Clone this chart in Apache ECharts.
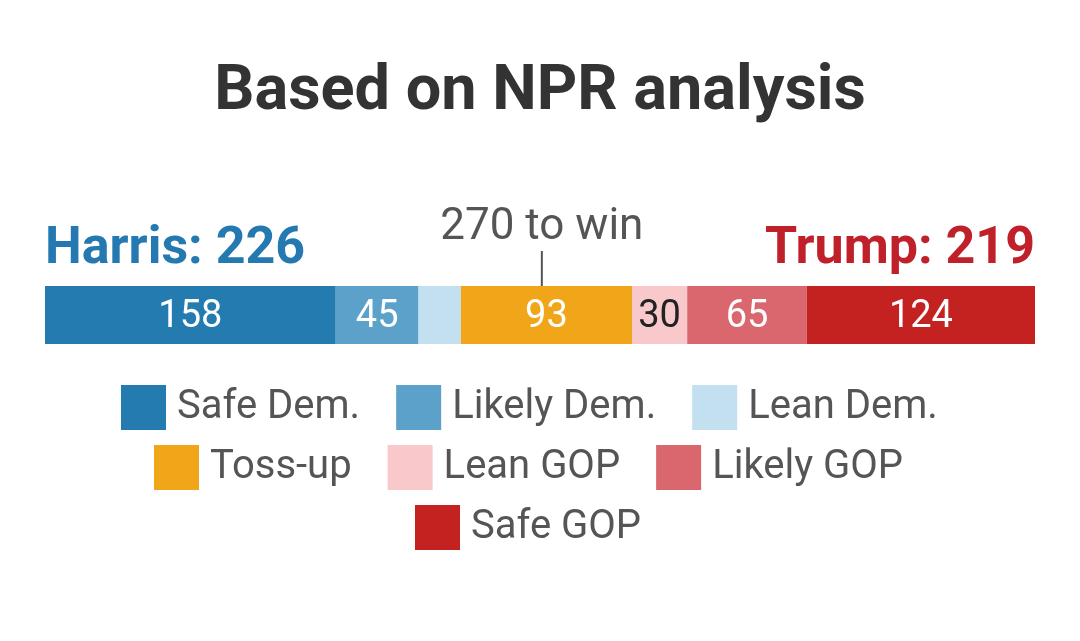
<!DOCTYPE html>
<html><head><meta charset="utf-8">
<script src="https://cdn.jsdelivr.net/npm/echarts@6/dist/echarts.min.js"></script>
<style>html,body{margin:0;padding:0;background:#fff}#c{width:1080px;height:641px}</style>
</head><body><div id="c"></div>
<script>
const categories = ['Safe Dem.', 'Likely Dem.', 'Lean Dem.', 'Toss-up', 'Lean GOP', 'Likely GOP', 'Safe GOP'];
const values = [158, 45, 23, 93, 30, 65, 124];
const showLabel = [true, true, false, true, true, true, true];
const colors = ['#237bb0', '#5ba1c9', '#c3e0f0', '#f0a618', '#f8c8cb', '#d9676d', '#c42121'];
const labelColors = ['#fff', '#fff', '#fff', '#fff', '#222', '#fff', '#fff'];
const winThreshold = 270;
const titleText = 'Based on NPR analysis';
const legendRows = [[0, 1, 2], [3, 4, 5], [6]];
const legendLefts = [121, 154, 415];

const total = values.reduce((a, b) => a + b, 0);
const harris = values[0] + values[1] + values[2];
const trump = values[4] + values[5] + values[6];
const FONT = 'Roboto';

const chart = echarts.init(document.getElementById('c'));
const series = categories.map((name, i) => ({
  name: name,
  type: 'bar',
  stack: 'total',
  barWidth: '100%',
  itemStyle: { color: colors[i] },
  label: {
    show: showLabel[i], position: 'inside', formatter: '{c}',
    color: labelColors[i], fontSize: 38, fontFamily: FONT, offset: [0, 2]
  },
  emphasis: { disabled: true },
  data: [values[i]]
}));

const legends = legendRows.map((row, r) => ({
  data: row.map(i => categories[i]),
  left: legendLefts[r],
  top: 385 + r * 60,
  padding: 0,
  itemWidth: 45, itemHeight: 45, itemGap: 36,
  icon: 'rect',
  selectedMode: false,
  textStyle: { fontSize: 40, color: '#555', fontFamily: FONT, padding: [0, 0, 0, 6] }
}));

chart.setOption({
  animation: false,
  title: {
    text: titleText, left: 'center', top: 57,
    textStyle: { fontSize: 63, fontWeight: 'bold', color: '#333', fontFamily: FONT }
  },
  legend: legends,
  grid: { left: 45, right: 45, top: 286, height: 58 },
  xAxis: { type: 'value', min: 0, max: total, show: false },
  yAxis: { type: 'category', data: ['EV'], show: false },
  series: series
});

const x270 = chart.convertToPixel({ xAxisIndex: 0 }, winThreshold);
chart.setOption({
  graphic: [
    { type: 'text', left: 45, top: 224, style: { text: 'Harris: ' + harris, fontSize: 52, fontWeight: 'bold', fill: '#2479b0', fontFamily: FONT } },
    { type: 'text', right: 45, top: 224, style: { text: 'Trump: ' + trump, fontSize: 52, fontWeight: 'bold', fill: '#c0202a', fontFamily: FONT } },
    { type: 'text', x: x270, y: 228, style: { text: winThreshold + ' to win', fontSize: 44, fill: '#555', fontFamily: FONT, align: 'center', verticalAlign: 'middle' } },
    { type: 'line', shape: { x1: x270, y1: 251, x2: x270, y2: 286 }, style: { stroke: '#555', lineWidth: 2 } }
  ]
});
</script></body></html>
